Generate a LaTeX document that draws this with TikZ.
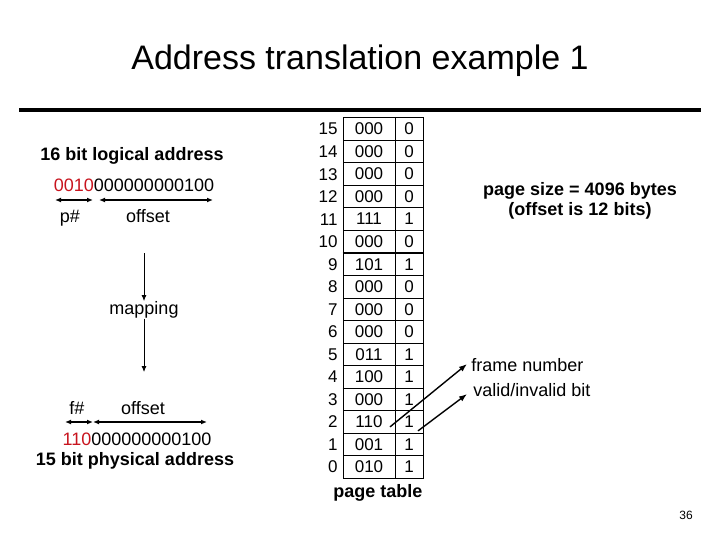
\documentclass[tikz,border=0pt]{standalone}
\usepackage{fontspec}
\setmainfont{Liberation Sans}
\usetikzlibrary{arrows.meta}
\definecolor{BitRed}{RGB}{200,20,30}

\begin{document}
\begin{tikzpicture}[x=1pt, y=-1pt, line width=0.8pt,
  every node/.style={inner sep=0pt, anchor=base, font=\fontsize{18}{20}\selectfont},
  boldtxt/.style={font=\fontsize{18}{20}\selectfont\bfseries},
  cell/.style={draw, anchor=center, line width=0.8pt, minimum height=22.53pt, font=\fontsize{17}{20}\selectfont},
  tip/.style={-{Latex[length=6pt,width=5pt]}},
  pointer/.style={-{Latex[length=8pt,width=6pt]}, line width=1.4pt},
  span/.style={{Latex[length=6pt,width=5pt]}-{Latex[length=6pt,width=5pt]}, line width=1.5pt}]
\useasboundingbox (0,0) rectangle (720,540);

% Title
\node[font=\fontsize{34}{38}\selectfont] (title) at (360,70) {Address translation example 1};
\draw[line width=4pt] (19,110.5) -- (701,110.5);

% Logical address
\node[boldtxt] (laddr) at (132,160.5) {16 bit logical address};
\node (lbits) at (134,191.5) {\textcolor{BitRed}{0010}000000000100};
\coordinate (pA) at (55,200);
\coordinate (pB) at (93,200);
\coordinate (oA) at (99,200);
\coordinate (oB) at (213,200);
\draw[span] (pA) -- (pB);
\draw[span] (oA) -- (oB);
\node (pnum) at (70,222.5) {p\#};
\node (loff) at (148,222.5) {offset};

% Mapping
\coordinate (mtop) at (144,253);
\coordinate (mbot) at (144,372);
\node (map) at (144,314.5) {mapping};
\draw[tip] (mtop) -- (map.north);
\draw[tip] (map.south) -- (mbot);

% Physical address
\node (fnumlbl) at (77,414.5) {f\#};
\node (poff) at (143,414.5) {offset};
\coordinate (fA) at (65,422);
\coordinate (fB) at (93,422);
\coordinate (qA) at (93,422);
\coordinate (qB) at (207,422);
\draw[span] (fA) -- (fB);
\draw[span] (qA) -- (qB);
\node (pbits) at (137,445.5) {\textcolor{BitRed}{110}000000000100};
\node[boldtxt] (paddr) at (135,465) {15 bit physical address};

% Page table
\foreach \n/\fr/\vb [count=\i from 0] in {15/000/0, 14/000/0, 13/000/0, 12/000/0,
    11/111/1, 10/000/0, 9/101/1, 8/000/0, 7/000/0, 6/000/0, 5/011/1, 4/100/1,
    3/000/1, 2/110/1, 1/001/1, 0/010/1} {
  \node[cell, minimum width=52pt] (fr\n) at (369,{129+\i*22.53}) {\fr};
  \node[cell, minimum width=28pt] (vb\n) at (409,{129+\i*22.53}) {\vb};
  \node[anchor=base east, font=\fontsize{17}{20}\selectfont] (pg\n) at (338,{135+\i*22.53}) {\n};
}
\draw[line width=1.8pt] (fr10.south west) -- (vb10.south east);
\draw[line width=1.8pt] (fr4.south west) -- (vb4.south east);
\node[boldtxt] (ptbl) at (378,497.5) {page table};

% Notes
\node[boldtxt] (pgsize) at (580,195.5) {page size = 4096 bytes};
\node[boldtxt] (pgoff) at (580,215.5) {(offset is 12 bits)};
\node[anchor=base west] (fnum) at (471,371.5) {frame number};
\node[anchor=base west] (vbit) at (473,396.5) {valid/invalid bit};
\draw[pointer] ([xshift=21pt,yshift=-5pt]fr2.center) -- ([xshift=-4pt,yshift=1pt]fnum.west);
\draw[pointer] ([xshift=9pt,yshift=-9pt]vb2.center) -- ([xshift=-6pt,yshift=-4pt]vbit.west);

% Slide number
\node[font=\fontsize{12}{14}\selectfont] (slide) at (686,519) {36};
\end{tikzpicture}
\end{document}
